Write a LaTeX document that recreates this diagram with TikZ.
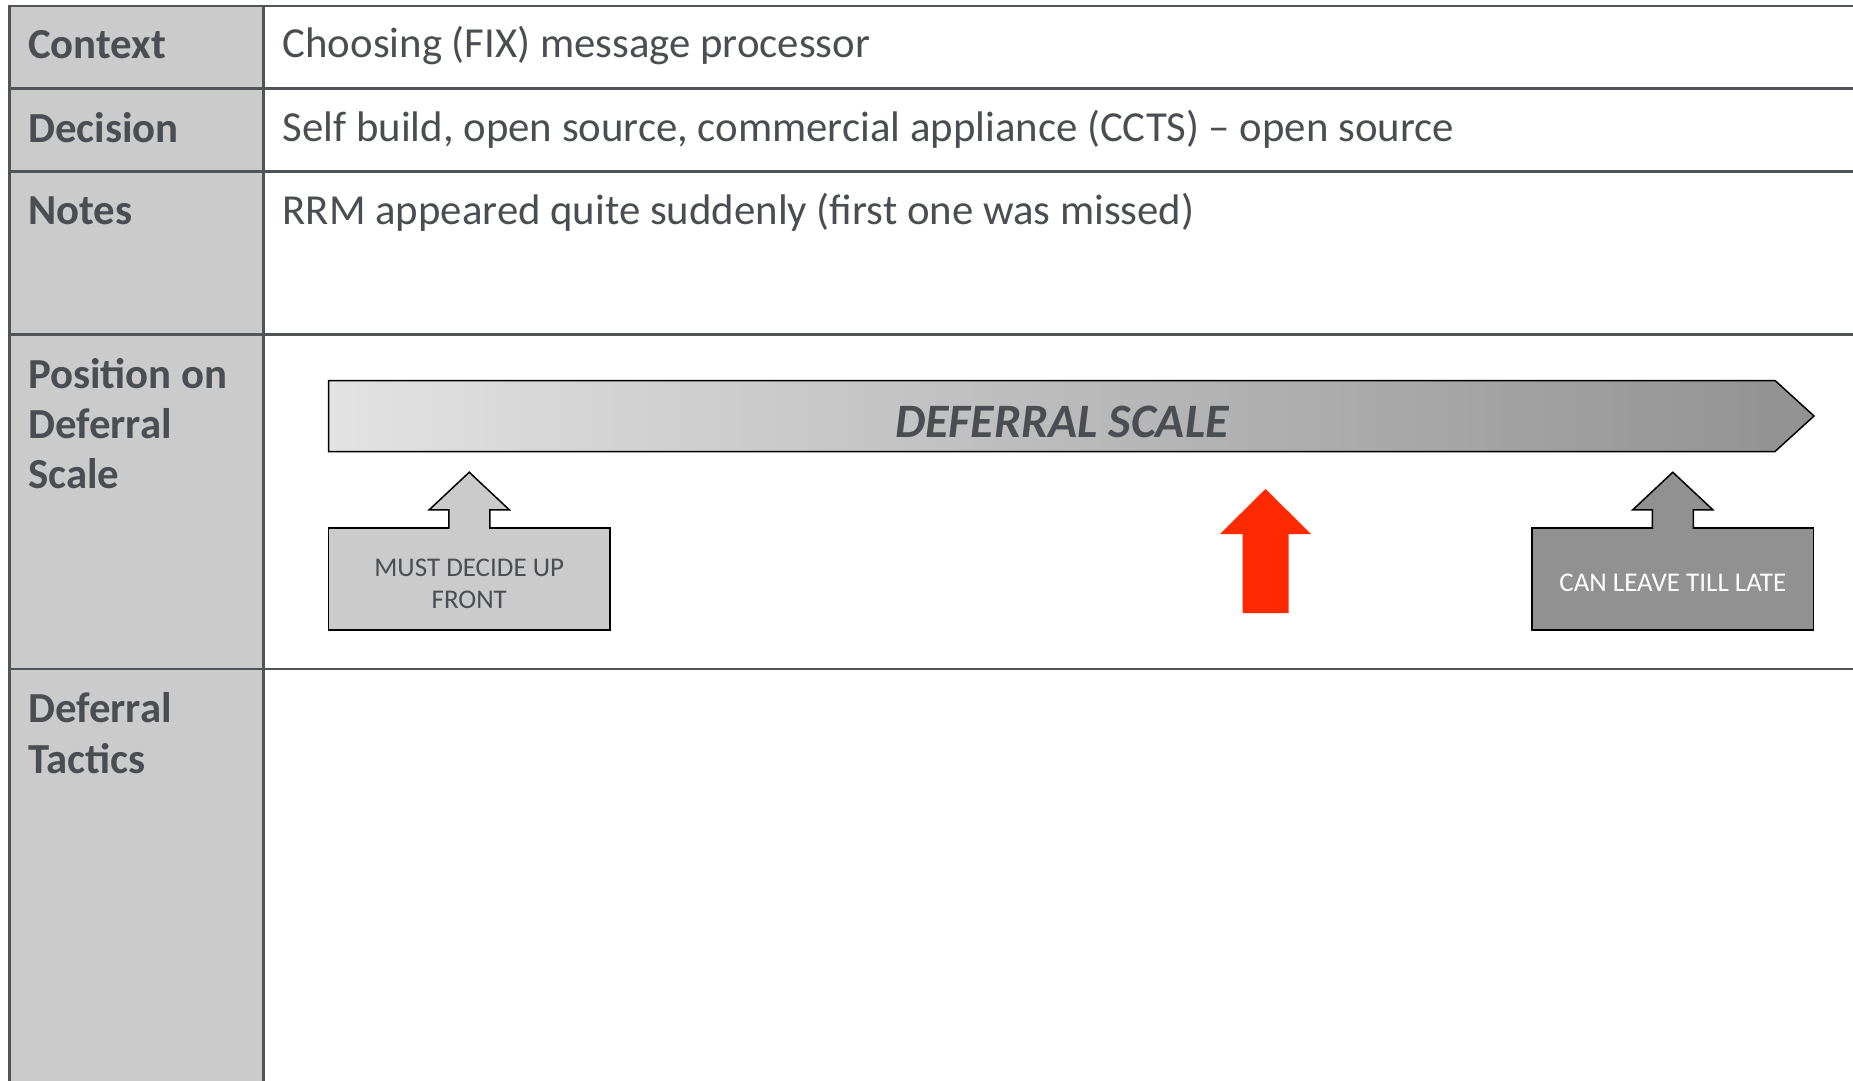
\documentclass[tikz,border=0pt]{standalone}
\usepackage{fontspec}
\setmainfont{Carlito}
\usetikzlibrary{positioning, calc}

\definecolor{linegray}{RGB}{80,83,88}
\definecolor{textgray}{RGB}{74,77,82}
\definecolor{cellgray}{RGB}{203,203,203}
\definecolor{latefill}{RGB}{145,145,145}
\definecolor{markred}{RGB}{255,42,0}

\tikzset{
  rowlabel/.style={anchor=base west, inner sep=0pt, text=textgray, font=\bfseries\fontsize{42.8}{51}\selectfont},
  rowtext/.style={anchor=base west, inner sep=0pt, text=textgray, font=\fontsize{42.8}{51}\selectfont},
  gridline/.style={draw=linegray, line width=2.5pt},
  calloutbox/.style={draw=black, line width=1.5pt, minimum width=281.5pt, minimum height=102pt, inner sep=0pt},
  callouttext/.style={align=center, inner sep=0pt, font=\fontsize{27}{32}\selectfont}
}

\begin{document}
\begin{tikzpicture}[x=1pt, y=-1pt]
\useasboundingbox (0,0) rectangle (1853,1081);

% Table
\fill[cellgray] (9.5,6) rectangle (263.5,1081);
\draw[gridline] (9.5,1081) -- (9.5,6) -- (1853,6);
\draw[gridline] (263.5,6) -- (263.5,1081);
\foreach \y in {88.5, 171.5, 334.5, 669} {
  \draw[gridline] (9.5,\y) -- (1853,\y);
}

% Row labels
\node[rowlabel] (lctx) at (28,59) {Context};
\node[rowlabel] (ldec) at (28,142) {Decision};
\node[rowlabel] (lnotes) at (28,224.5) {Notes};
\node[rowlabel] (lposa) at (28,388) {Position on};
\node[rowlabel] (lposb) at (28,438) {Deferral};
\node[rowlabel] (lposc) at (28,488.5) {Scale};
\node[rowlabel] (ltaca) at (28,722) {Deferral};
\node[rowlabel] (ltacb) at (28,773) {Tactics};

% Row contents
\node[rowtext] (tctx) at (282.5,58) {Choosing (FIX) message processor};
\node[rowtext] (tdec) at (282.5,141) {Self build, open source, commercial appliance (CCTS) -- open source};
\node[rowtext] (tnotes) at (282.5,224) {RRM appeared quite suddenly (first one was missed)};

% Deferral scale
\draw[black, line width=1.5pt, left color=black!11, right color=black!43]
  (328.5,380.5) -- (1775,380.5) -- (1814,416) -- (1775,451.5) -- (328.5,451.5) -- cycle;
\node[anchor=base, inner sep=0pt, text=textgray, font=\bfseries\itshape\fontsize{48}{58}\selectfont] (scale) at (1062,437) {DEFERRAL SCALE};

% Callouts
\node[calloutbox, fill=cellgray] (upfront) at (469.25,579) {};
\node[calloutbox, fill=latefill] (late) at (1672.8,579) {};
\node[callouttext, text=textgray] (upfronttxt) at ($(upfront.center)+(0,5)$) {MUST DECIDE UP\\FRONT};
\node[callouttext, text=white] (latetxt) at ($(late.center)+(0,4)$) {CAN LEAVE TILL LATE};

\foreach \b/\c in {upfront/cellgray, late/latefill} {
  \draw[black, line width=1.5pt, fill=\c, line join=miter]
    ($(\b.north)+(-20.5,1.5)$) -- ($(\b.north)+(-20.5,-17.5)$) -- ($(\b.north)+(-40,-17.5)$)
    -- ($(\b.north)+(0,-55)$) -- ($(\b.north)+(40,-17.5)$) -- ($(\b.north)+(20.5,-17.5)$)
    -- ($(\b.north)+(20.5,1.5)$);
}

% Current position
\fill[markred] (1265.5,489) -- (1311,534) -- (1288.5,534) -- (1288.5,613) -- (1242.5,613)
  -- (1242.5,534) -- (1220,534) -- cycle;
\end{tikzpicture}
\end{document}
